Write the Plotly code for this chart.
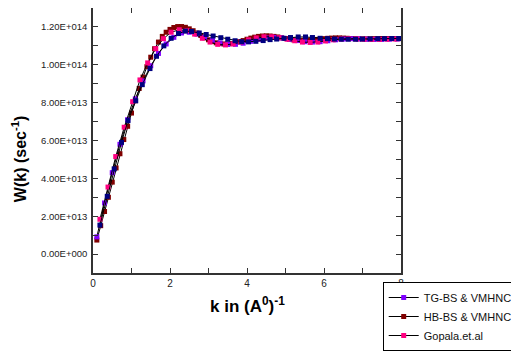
import plotly.graph_objects as go

# W(k) values in units of 1e13 sec^-1
k_tg = [0.1, 0.3, 0.5, 0.7, 0.9, 1.1, 1.3, 1.5, 1.7, 1.9, 2.1, 2.3, 2.5, 2.7, 2.9, 3.1, 3.3, 3.5, 3.7, 3.9,
        4.1, 4.3, 4.5, 4.7, 4.9, 5.1, 5.3, 5.5, 5.7, 5.9, 6.1, 6.3, 6.5, 6.7, 6.9, 7.1, 7.3, 7.5, 7.7, 7.9]
w_tg = [0.91, 2.7, 4.3, 5.8, 7.1, 8.2, 9.15, 9.95, 10.6, 11.1, 11.45, 11.68, 11.72, 11.62, 11.45, 11.28, 11.15,
        11.08, 11.08, 11.14, 11.24, 11.34, 11.42, 11.45, 11.42, 11.35, 11.28, 11.22, 11.2, 11.22, 11.27, 11.32,
        11.36, 11.38, 11.37, 11.35, 11.34, 11.34, 11.35, 11.36]

k_hb = [0.1, 0.2, 0.3, 0.4, 0.5, 0.6, 0.7, 0.8, 0.9, 1.0, 1.1, 1.2, 1.3, 1.4, 1.5, 1.6, 1.7, 1.8, 1.9, 2.0,
        2.1, 2.2, 2.3, 2.4, 2.5, 2.6, 2.7, 2.8, 2.9, 3.0, 3.1, 3.2, 3.3, 3.4, 3.5, 3.6, 3.7, 3.8, 3.9, 4.0,
        4.1, 4.2, 4.3, 4.4, 4.5, 4.6, 4.7, 4.8, 4.9, 5.0, 5.1, 5.2, 5.3, 5.4, 5.5, 5.6, 5.7, 5.8, 5.9, 6.0,
        6.1, 6.2, 6.3, 6.4, 6.5, 6.6, 6.7, 6.8, 6.9, 7.0, 7.1, 7.2, 7.3, 7.4, 7.5, 7.6, 7.7, 7.8, 7.9, 8.0]
w_hb = [0.74, 1.5, 2.25, 3.0, 3.8, 4.55, 5.3, 6.05, 6.75, 7.45, 8.1, 8.75, 9.35, 9.9, 10.4, 10.85, 11.2, 11.5,
        11.72, 11.87, 11.97, 12.02, 12.02, 11.98, 11.9, 11.8, 11.68, 11.55, 11.43, 11.32, 11.23, 11.16, 11.12,
        11.1, 11.1, 11.12, 11.16, 11.22, 11.28, 11.35, 11.41, 11.46, 11.5, 11.52, 11.53, 11.52, 11.5, 11.47,
        11.43, 11.39, 11.35, 11.32, 11.3, 11.29, 11.29, 11.3, 11.32, 11.34, 11.36, 11.38, 11.4, 11.41, 11.42,
        11.42, 11.41, 11.4, 11.39, 11.38, 11.37, 11.37, 11.37, 11.37, 11.38, 11.38, 11.39, 11.39, 11.39, 11.39,
        11.38, 11.38]

k_go = [0.18, 0.39, 0.59, 0.81, 1.03, 1.22, 1.42, 1.63, 1.83, 2.03, 2.24, 2.44, 2.64, 2.84, 3.04, 3.24, 3.44,
        3.64, 3.84, 4.04, 4.24, 4.44, 4.64, 4.84, 5.04, 5.24, 5.44, 5.64, 5.84, 6.04, 6.24, 6.44, 6.64, 6.84,
        7.04, 7.24, 7.44, 7.64, 7.84]
w_go = [1.84, 3.54, 5.15, 6.7, 8.05, 9.2, 10.1, 10.85, 11.38, 11.72, 11.85, 11.8, 11.62, 11.4, 11.2, 11.08,
        11.05, 11.1, 11.2, 11.32, 11.42, 11.48, 11.48, 11.43, 11.35, 11.27, 11.2, 11.18, 11.2, 11.26, 11.32,
        11.36, 11.38, 11.37, 11.35, 11.34, 11.34, 11.35, 11.36]

k_nv = [0.18, 0.37, 0.55, 0.74, 0.91, 1.11, 1.28, 1.48, 1.65, 1.84, 2.03, 2.22, 2.4, 2.56, 2.76, 2.94, 3.12,
        3.32, 3.5, 3.69, 3.86, 4.04, 4.23, 4.42, 4.6, 4.77, 4.96, 5.13, 5.33, 5.52, 5.7, 5.9, 6.09, 6.27, 6.45,
        6.63, 6.82, 7.0, 7.2, 7.4, 7.57, 7.76, 7.94]
w_nv = [1.53, 3.05, 4.5, 5.9, 7.05, 8.1, 8.95, 9.8, 10.45, 11.0, 11.4, 11.65, 11.78, 11.76, 11.68, 11.6, 11.52,
        11.43, 11.35, 11.27, 11.22, 11.21, 11.24, 11.28, 11.33, 11.36, 11.4, 11.44, 11.47, 11.47, 11.44, 11.4,
        11.38, 11.36, 11.35, 11.35, 11.35, 11.36, 11.37, 11.38, 11.38, 11.39, 11.39]

y_tickvals = [-1, 0, 1, 2, 3, 4, 5, 6, 7, 8, 9, 10, 11, 12, 13]
y_ticktext = ["", "0.00E+000", "", "2.00E+013", "", "4.00E+013", "", "6.00E+013", "", "8.00E+013", "",
              "1.00E+014", "", "1.20E+014", ""]
x_tickvals = [0, 1, 2, 3, 4, 5, 6, 7, 8]
x_ticktext = ["0", "", "2", "", "4", "", "6", "", "8"]

FONT = "Arial, Liberation Sans, sans-serif"

fig = go.Figure()

def add(k, w, name, color, rank, show=True):
    fig.add_trace(go.Scatter(
        x=k, y=w, name=name, mode="lines+markers", showlegend=show, legendrank=rank,
        line=dict(color="black", width=1),
        marker=dict(symbol="square", size=5, color=color, line=dict(width=0)),
    ))

add(k_hb, w_hb, "HB-BS & VMHNC", "#800000", 2)
add(k_tg, w_tg, "TG-BS & VMHNC", "#8000ff", 1)
add(k_go, w_go, "Gopala.et.al", "#ff0080", 3)
add(k_nv, w_nv, "", "#000080", 4, show=False)

axis_common = dict(showline=True, linecolor="#333", linewidth=1.5, mirror="ticks", ticks="inside",
                   ticklen=5, tickwidth=1, tickcolor="#333", showgrid=False, zeroline=False)

# the page body has an 8px margin, so the figure is sized/offset accordingly
fig.update_layout(
    width=511, height=344,
    margin=dict(l=85, r=118, t=0, b=79, autoexpand=False),
    paper_bgcolor="white", plot_bgcolor="white",
    font=dict(family=FONT, color="#222"),
    xaxis=dict(range=[0, 8], tickmode="array", tickvals=x_tickvals, ticktext=x_ticktext,
               tickfont=dict(size=10, family=FONT), automargin=False, **axis_common),
    yaxis=dict(range=[-1, 13], tickmode="array", tickvals=y_tickvals, ticktext=y_ticktext,
               tickfont=dict(size=9.5, family=FONT),
               ticklabelstandoff=2, automargin=False, **axis_common),
    legend=dict(x=0.9406, y=-0.034, xanchor="left", yanchor="top", bgcolor="white",
                bordercolor="black", borderwidth=1, font=dict(size=11, family=FONT, color="#111"),
                traceorder="normal"),
    showlegend=True,
    annotations=[
        dict(text="<b>W(k) (sec<sup>-1</sup>)</b>", xref="paper", yref="paper", x=-0.240, y=0.430,
             textangle=-90, showarrow=False, xanchor="center", yanchor="middle",
             font=dict(size=16, family=FONT, color="black")),
        dict(text="<b>k in (A<sup>0</sup>)<sup>-1</sup></b>", xref="paper", yref="paper", x=0.5, y=-0.1208,
             showarrow=False, xanchor="center", yanchor="middle",
             font=dict(size=17, family=FONT, color="black")),
    ],
)

fig.write_html("out.html")
